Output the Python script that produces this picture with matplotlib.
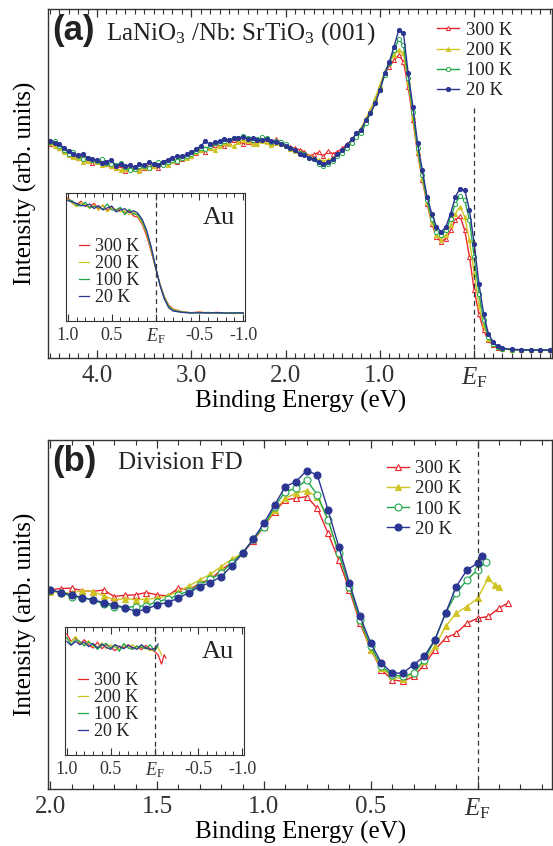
import matplotlib
matplotlib.use("Agg")
import matplotlib.pyplot as plt
from matplotlib.ticker import MultipleLocator, FixedLocator, NullLocator

plt.rcParams['font.family'] = ['Liberation Serif', 'DejaVu Serif']
plt.rcParams['mathtext.fontset'] = 'custom'
plt.rcParams['mathtext.rm'] = 'Liberation Serif'
plt.rcParams['mathtext.it'] = 'Liberation Serif:italic'
plt.rcParams['text.color'] = '#222222'
plt.rcParams['axes.edgecolor'] = '#333333'
plt.rcParams['xtick.color'] = '#333333'

temps = ["300 K", "200 K", "100 K", "20 K"]
colors = ['#e8262c', '#cfc424', '#1fa74a', '#2b3592']
markers = ['^', '^', 'o', 'o']
filled = [False, True, False, True]

# ---- panel (a): LaNiO3 valence band spectra ----
# 0.05 eV steps from 4.5 down to -0.3, then a coarser tail
be_a = [round(4.5 - 0.05 * i, 2) for i in range(97)] + [-0.4, -0.5, -0.6, -0.7, -0.8]
int_a_300 = [640, 645, 628, 622, 610, 606, 600, 604, 592, 583,
             590, 588, 580, 574, 568, 578, 560, 566, 572, 563,
             570, 580, 575, 570, 580, 588, 592, 586, 596, 604,
             605, 614, 622, 618, 630, 638, 640, 634, 644, 652,
             650, 642, 648, 646, 652, 658, 650, 644, 655, 648,
             640, 632, 628, 624, 618, 606, 610, 616, 605, 620,
             612, 618, 628, 640, 650,
             668, 683, 713, 743, 773, 813, 853, 873, 893, 908, 888, 813, 713, 613,
             533, 463, 403, 363, 348, 358, 383, 413, 425, 383, 303, 203, 133,
             83, 53, 38, 31, 27,
             25, 24, 23, 23, 23]
int_a_200 = [645, 636, 630, 616, 608, 602, 598, 588, 590, 592,
             586, 578, 582, 576, 570, 562, 565, 572, 566, 560,
             572, 568, 574, 580, 584, 578, 590, 596, 600, 598,
             606, 616, 624, 630, 628, 622, 636, 644, 640, 634,
             648, 654, 650, 640, 642, 650, 646, 638, 645, 640,
             634, 626, 620, 616, 612, 604, 600, 594, 590, 594,
             598, 608, 618, 632, 648,
             673, 688, 718, 743, 778, 818, 858, 883, 908, 923, 913, 828, 723, 618,
             538, 468, 408, 368, 355, 368, 398, 433, 453, 423, 353, 253, 158,
             98, 58, 41, 32, 27,
             25, 24, 23, 23, 23]
int_a_100 = [646, 650, 636, 624, 612, 616, 605, 596, 598, 594,
             590, 596, 585, 580, 578, 584, 572, 562, 565, 576,
             575, 570, 580, 586, 578, 586, 594, 590, 598, 604,
             610, 620, 630, 626, 636, 644, 645, 650, 652, 660,
             658, 664, 660, 652, 655, 662, 658, 648, 650, 646,
             640, 630, 622, 614, 610, 600, 595, 582, 575, 582,
             590, 604, 615, 630, 645,
             663, 673, 703, 733, 763, 803, 848, 883, 923, 955, 938, 838, 738, 628,
             548, 473, 418, 378, 368, 383, 418, 463, 485, 473, 413, 303, 193,
             113, 63, 43, 33, 28,
             25, 24, 23, 24, 23]
int_a_20 = [650, 644, 640, 630, 620, 610, 608, 612, 600, 596,
            592, 584, 588, 594, 576, 580, 574, 578, 572, 580,
            578, 586, 582, 578, 588, 594, 598, 606, 604, 610,
            616, 626, 635, 650, 640, 646, 650, 656, 652, 658,
            660, 662, 656, 660, 652, 654, 655, 650, 648, 642,
            636, 628, 622, 612, 608, 600, 596, 588, 582, 588,
            596, 610, 622, 638, 655,
            673, 683, 713, 733, 763, 803, 853, 888, 933, 983, 973, 853, 753, 643,
            563, 483, 433, 393, 378, 393, 433, 483, 508, 503, 443, 343, 223,
            133, 73, 48, 35, 29,
            26, 25, 24, 24, 24]

# ---- panel (b): divided by Fermi-Dirac function ----
be_b = [2.0, 1.95, 1.9, 1.85, 1.8, 1.75, 1.7, 1.65, 1.6, 1.55, 1.5, 1.45, 1.4, 1.35,
        1.3, 1.25, 1.2, 1.15, 1.1, 1.05, 1.0, 0.95, 0.9, 0.85, 0.8, 0.75, 0.7, 0.65,
        0.6, 0.55, 0.5, 0.45, 0.4, 0.35, 0.3, 0.25, 0.2, 0.15, 0.1, 0.05, 0.0]
int_b_300 = [598, 602, 603, 596, 593, 598, 578, 582, 583, 590, 583, 580, 603, 598,
             618, 630, 658, 680, 708, 745, 788, 833, 868, 873, 878, 843, 768, 688,
             598, 498, 418, 358, 328, 323, 338, 373, 418, 453, 468, 498, 513]
int_b_200 = [593, 590, 588, 596, 593, 580, 568, 572, 568, 570, 573, 580, 593, 610,
             628, 645, 668, 690, 708, 750, 788, 838, 873, 888, 896, 878, 808, 708,
             608, 508, 418, 363, 338, 330, 348, 383, 428, 488, 528, 548, 573]
int_b_100 = [598, 590, 578, 575, 568, 555, 548, 545, 548, 550, 563, 570, 583, 595,
             613, 630, 648, 680, 708, 750, 788, 848, 893, 903, 928, 883, 808, 708,
             608, 508, 428, 368, 343, 338, 348, 388, 448, 528, 588, 628, 658]
int_b_20 = [598, 590, 583, 575, 568, 560, 553, 545, 533, 540, 553, 560, 573, 590,
            608, 620, 638, 670, 708, 750, 798, 853, 908, 923, 956, 943, 838, 728,
            618, 518, 438, 378, 348, 348, 373, 398, 448, 528, 608, 658, 678]
# points beyond E_F (each temperature reaches a different depth)
tail_be_b = [[-0.05, -0.1, -0.14], [-0.05, -0.08, -0.1], [-0.04], [-0.02]]
tail_int_b = [[518, 543, 558], [633, 613, 608], [683], [700]]

# ---- insets: Au reference ----
be_au = [1.0, 0.95, 0.9, 0.85, 0.8, 0.75, 0.7, 0.65, 0.6, 0.55, 0.5, 0.45, 0.4, 0.35,
         0.3, 0.25, 0.2, 0.15, 0.1, 0.05, 0.0, -0.05, -0.1, -0.15, -0.2, -0.3, -0.4,
         -0.5, -0.6, -0.7, -0.8, -0.9, -1.0]
au_300 = [370, 358, 350, 360, 346, 343, 354, 338, 348, 332, 344, 330, 340, 324,
          332, 316, 312, 290, 255, 210, 160, 112, 74, 48, 36, 28, 25, 27, 24, 26, 24, 23, 25]
au_200 = [366, 354, 343, 356, 350, 338, 349, 332, 350, 328, 340, 336, 328, 332,
          320, 328, 315, 294, 262, 215, 162, 110, 72, 46, 34, 27, 24, 26, 25, 23, 25, 22, 24]
au_100 = [364, 362, 348, 346, 357, 340, 344, 344, 336, 352, 334, 334, 342, 320,
          336, 322, 320, 300, 268, 220, 163, 110, 70, 44, 32, 27, 25, 24, 26, 24, 23, 25, 23]
au_20 = [362, 358, 354, 348, 346, 352, 338, 347, 334, 340, 346, 328, 334, 338,
         326, 332, 324, 305, 272, 224, 164, 108, 66, 40, 30, 26, 24, 25, 24, 25, 24, 24, 24]

be_aufd = [1.0, 0.95, 0.9, 0.85, 0.8, 0.75, 0.7, 0.65, 0.6, 0.55, 0.5, 0.45, 0.4,
           0.35, 0.3, 0.25, 0.2, 0.15, 0.1, 0.05, 0.0, -0.04, -0.08, -0.11, -0.13]
aufd_300 = [362, 340, 352, 332, 345, 330, 320, 338, 318, 330, 322, 312, 326,
            320, 330, 318, 326, 315, 328, 318, 310, 300, 272, 300, 290]
aufd_200 = [348, 338, 355, 336, 330, 342, 325, 322, 336, 318, 330, 322, 316,
            328, 322, 330, 318, 326, 320, 312, 318, 322, 300]
aufd_100 = [352, 330, 345, 340, 326, 338, 330, 316, 328, 334, 320, 330, 310,
            334, 320, 316, 326, 322, 318, 330, 312, 326]
aufd_20 = [340, 328, 340, 330, 338, 324, 334, 320, 332, 322, 316, 330, 324,
           318, 328, 322, 316, 330, 320, 316, 318, 332]

data_a = [int_a_300, int_a_200, int_a_100, int_a_20]
data_b = [int_b_300, int_b_200, int_b_100, int_b_20]
data_au = [au_300, au_200, au_100, au_20]
data_aufd = [aufd_300, aufd_200, aufd_100, aufd_20]

ef_label = r'$E_\mathrm{F}$'


def style_main(ax, major, minor, labels):
    ax.xaxis.set_major_locator(FixedLocator(major))
    ax.xaxis.set_minor_locator(MultipleLocator(minor))
    ax.set_xticklabels(labels)
    ax.yaxis.set_major_locator(NullLocator())
    ax.tick_params(axis='x', which='both', direction='in', top=True, labelsize=18, pad=5)
    ax.tick_params(axis='x', which='major', length=6, width=0.9)
    ax.tick_params(axis='x', which='minor', length=3.5, width=0.8)
    ax.set_xlabel("Binding Energy (eV)", fontsize=18, labelpad=0)
    ax.set_ylabel("Intensity (arb. units)", fontsize=18, labelpad=8)
    for s in ax.spines.values():
        s.set_linewidth(1.0)


def style_inset(ax):
    ax.set_xlim(1.02, -1.02)
    ax.xaxis.set_major_locator(FixedLocator([1.0, 0.5, 0.0, -0.5, -1.0]))
    ax.xaxis.set_minor_locator(MultipleLocator(0.1))
    ax.set_xticklabels(['1.0', '0.5', ef_label, '-0.5', '-1.0'])
    ax.yaxis.set_major_locator(NullLocator())
    ax.tick_params(axis='x', which='both', direction='in', top=True, labelsize=13, pad=4)
    ax.tick_params(axis='x', which='major', length=5, width=0.8)
    ax.tick_params(axis='x', which='minor', length=3, width=0.7)
    ax.axvline(0, color='#333333', ls=(0, (4, 3)), lw=0.9)
    ax.text(0.945, 0.89, "Au", transform=ax.transAxes, ha='right', va='top', fontsize=19)
    ax.legend(loc='lower left', bbox_to_anchor=(0.03, 0.06), frameon=False, fontsize=13,
              handlelength=0.55, handletextpad=0.35, labelspacing=0.0, borderaxespad=0.0)


def main_legend(ax, anchor):
    ax.legend(loc='upper left', bbox_to_anchor=anchor, frameon=False, fontsize=13.5,
              handlelength=1.15, handletextpad=0.35, labelspacing=0.16,
              borderaxespad=0.0, borderpad=0.0)


fig = plt.figure(figsize=(5.53, 8.46), dpi=100)

# panel (a)
ax1 = fig.add_axes([48 / 553, 1 - 358 / 846, 1 - 48 / 553 - 0.001, 349 / 846])
for i in range(4):
    mfc = colors[i] if filled[i] else 'white'
    ax1.plot(be_a, data_a[i], color=colors[i], lw=1.0, marker=markers[i], ms=3.0,
             mfc=mfc, mec=colors[i], mew=0.7, label=temps[i])
ax1.set_xlim(4.52, -0.83)
ax1.set_ylim(0, 1046)
ax1.plot([0, 0], [0, 753], color='#333333', ls=(0, (4, 3)), lw=0.9)
style_main(ax1, [4.0, 3.0, 2.0, 1.0, 0.0], 0.1, ['4.0', '3.0', '2.0', '1.0', ef_label])
ax1.text(0.008, 0.985, "(a)", transform=ax1.transAxes, ha='left', va='top',
         fontsize=25, fontweight='bold', family='Liberation Sans')
ax1.text(0.115, 0.968, r"LaNiO$_3$ /Nb: SrTiO$_3$ (001)", transform=ax1.transAxes,
         ha='left', va='top', fontsize=18)
main_legend(ax1, (0.772, 0.963))

ins1 = fig.add_axes([66 / 553, 1 - 321 / 846, 179 / 553, 128 / 846])
for i in range(4):
    ins1.plot(be_au, data_au[i], color=colors[i], lw=0.9, label=temps[i])
ins1.set_ylim(0, 385)
style_inset(ins1)

# panel (b)
ax2 = fig.add_axes([48 / 553, 1 - 789 / 846, 1 - 48 / 553 - 0.001, 349 / 846])
for i in range(4):
    mfc = colors[i] if filled[i] else 'white'
    x = be_b + tail_be_b[i]
    y = data_b[i] + tail_int_b[i]
    ax2.plot(x, y, color=colors[i], lw=1.0, marker=markers[i], ms=5,
             mfc=mfc, mec=colors[i], mew=0.8, label=temps[i])
ax2.set_xlim(2.01, -0.35)
ax2.set_ylim(0, 1048)
ax2.axvline(0, color='#333333', ls=(0, (4, 3)), lw=0.9)
style_main(ax2, [2.0, 1.5, 1.0, 0.5, 0.0], 0.1, ['2.0', '1.5', '1.0', '0.5', ef_label])
ax2.text(0.008, 0.985, "(b)", transform=ax2.transAxes, ha='left', va='top',
         fontsize=25, fontweight='bold', family='Liberation Sans')
ax2.text(0.139, 0.965, "Division FD", transform=ax2.transAxes, ha='left', va='top',
         fontsize=18)
main_legend(ax2, (0.672, 0.942))

ins2 = fig.add_axes([65 / 553, 1 - 755 / 846, 179 / 553, 128 / 846])
for i in range(4):
    n = len(data_aufd[i])
    ins2.plot(be_aufd[:n], data_aufd[i], color=colors[i], lw=0.9, label=temps[i])
ins2.set_ylim(0, 383)
style_inset(ins2)

fig.savefig("out.png", dpi=100)
